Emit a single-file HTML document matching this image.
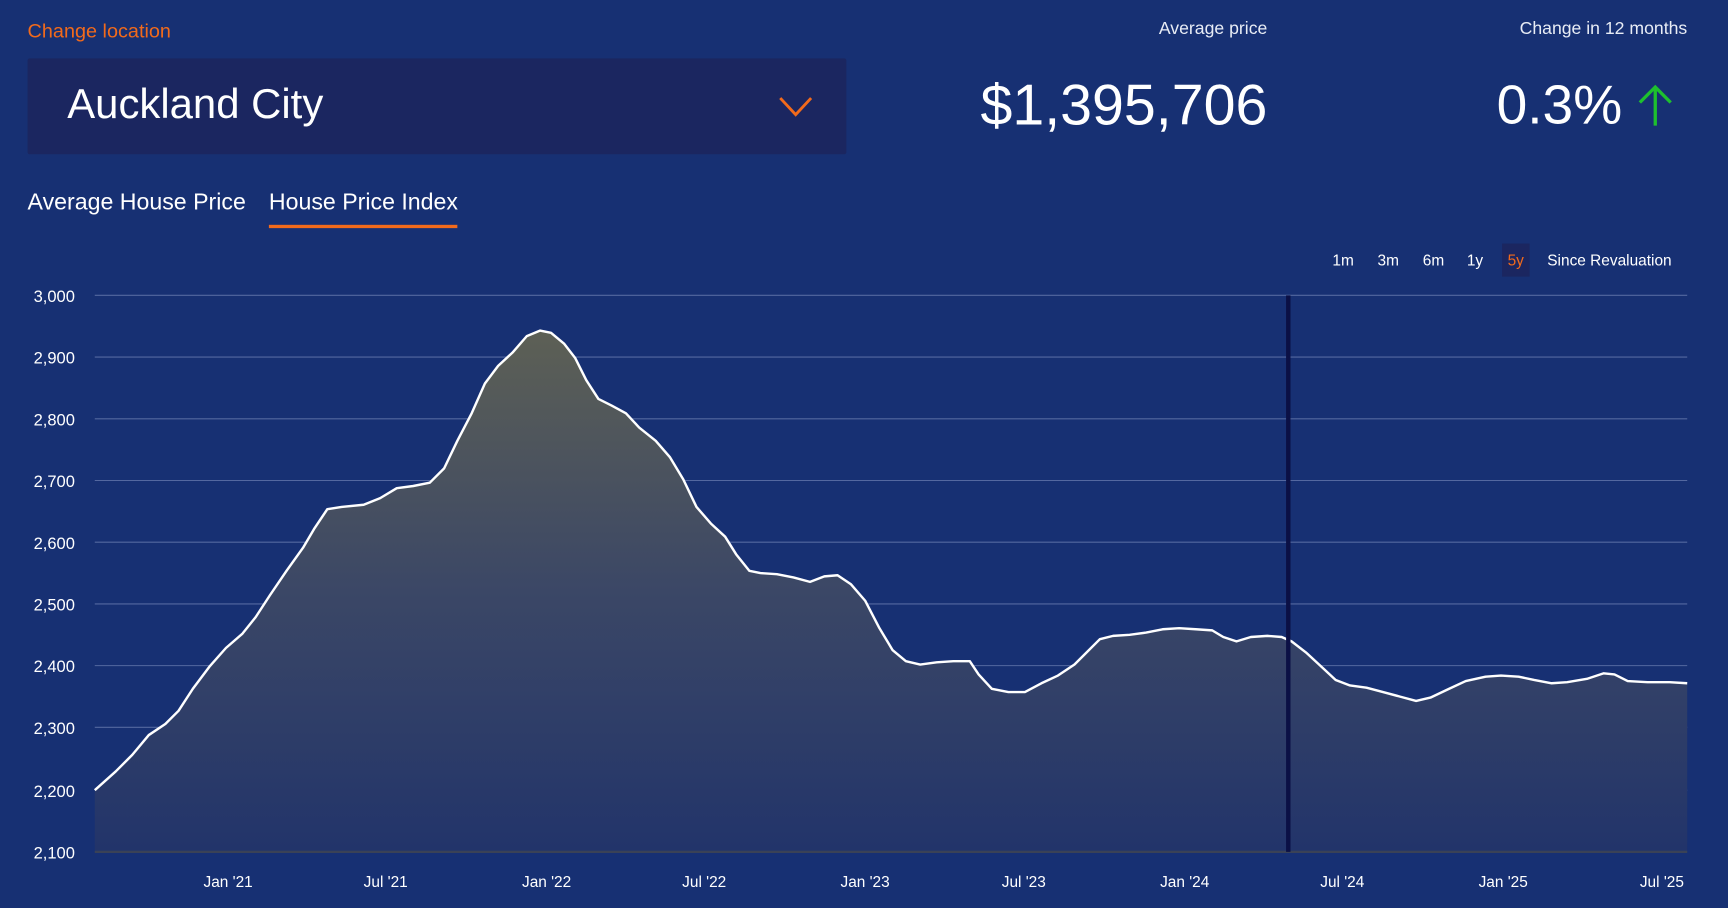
<!DOCTYPE html>
<html><head><meta charset="utf-8"><style>
html,body{margin:0;padding:0;width:1728px;height:908px;overflow:hidden;background:#173073;}
#w{position:absolute;left:0;top:0;width:1568px;height:824px;transform:scale(1.10204);transform-origin:0 0;font-family:"Liberation Sans",sans-serif;color:#fff;}
.a{position:absolute;white-space:nowrap;}
</style></head><body><div id="w">
<div class="a" style="left:25px;top:18px;font-size:18px;color:#f26a1b;">Change location</div>
<div class="a" style="left:25px;top:53px;width:743px;height:87px;background:#1b2660;border-radius:2px;"></div>
<div class="a" style="left:61px;top:74px;font-size:38px;">Auckland City</div>
<svg class="a" style="left:704px;top:84px" width="38" height="26"><polyline points="4,5 18,20 32,5" fill="none" stroke="#f26a1b" stroke-width="2.6"/></svg>
<div class="a" style="right:418px;top:18px;font-size:16px;color:#e8ecf5;">Average price</div>
<div class="a" style="right:418px;top:66px;font-size:52px;">$1,395,706</div>
<div class="a" style="right:37px;top:18px;font-size:16px;color:#e8ecf5;">Change in 12 months</div>
<div class="a" style="right:96px;top:66px;font-size:50px;">0.3%</div>
<svg class="a" style="left:1484px;top:76px" width="36" height="40"><line x1="18" y1="3" x2="18" y2="38" stroke="#1ec02e" stroke-width="3"/><polyline points="4,17 18,3 32,17" fill="none" stroke="#1ec02e" stroke-width="3"/></svg>
<div class="a" style="left:25px;top:172px;font-size:21px;">Average House Price</div>
<div class="a" style="left:244px;top:172px;font-size:21px;">House Price Index</div>
<div class="a" style="left:244px;top:204px;width:171px;height:3px;background:#f26a1b;"></div>
<div class="a" style="left:1363px;top:221px;width:25px;height:30px;background:#1b2660;"></div>
<div class="a" style="left:1209px;top:228px;font-size:14px;">1m</div>
<div class="a" style="left:1250px;top:228px;font-size:14px;">3m</div>
<div class="a" style="left:1291px;top:228px;font-size:14px;">6m</div>
<div class="a" style="left:1331px;top:228px;font-size:14px;">1y</div>
<div class="a" style="left:1368px;top:228px;font-size:14px;color:#f26a1b;">5y</div>
<div class="a" style="left:1404px;top:228px;font-size:14px;">Since Revaluation</div>
<svg class="a" style="left:0;top:0" width="1568" height="824" font-family="Liberation Sans, sans-serif" font-size="15" fill="#fff">
<defs><linearGradient id="g" x1="0" y1="300" x2="0" y2="773" gradientUnits="userSpaceOnUse"><stop offset="0" stop-color="#5d6055"/><stop offset="0.5" stop-color="#3b4766"/><stop offset="1" stop-color="#22346a"/></linearGradient></defs>
<g stroke="#5468a0" stroke-width="1">
<line x1="86" y1="268" x2="1531" y2="268"/><line x1="86" y1="324" x2="1531" y2="324"/><line x1="86" y1="380" x2="1531" y2="380"/><line x1="86" y1="436" x2="1531" y2="436"/><line x1="86" y1="492" x2="1531" y2="492"/><line x1="86" y1="548" x2="1531" y2="548"/><line x1="86" y1="604" x2="1531" y2="604"/><line x1="86" y1="660" x2="1531" y2="660"/><line x1="86" y1="717" x2="1531" y2="717"/></g>
<path fill="url(#g)" d="M86,717 L105,700 120,685 135,667 150,657 162,645 175,625 190,605 205,588 220,575 232,560 245,540 260,518 275,497 285,480 297,462 310,460 330,458 345,452 360,443 375,441 390,438 403,425 415,400 428,375 440,348 452,332 465,320 478,305 490,300 500,302 512,312 522,325 532,345 543,362 555,368 568,375 580,388 595,400 608,415 620,435 632,460 645,475 658,487 668,503 680,518 690,520 705,521 720,524 735,528 748,523 760,522 772,530 785,545 798,570 810,590 822,600 835,603 850,601 865,600 880,600 888,612 900,625 915,628 930,628 945,620 960,613 975,603 985,593 998,580 1010,577 1025,576 1040,574 1055,571 1070,570 1085,571 1100,572 1110,578 1122,582 1135,578 1150,577 1163,578 1172,582 1185,592 1198,604 1212,617 1225,622 1240,624 1255,628 1270,632 1285,636 1298,633 1315,625 1330,618 1348,614 1362,613 1378,614 1392,617 1408,620 1422,619 1440,616 1455,611 1465,612 1477,618 1495,619 1515,619 1531,620 L1531,773 L86,773 Z"/>
<line x1="86" y1="773" x2="1531" y2="773" stroke="#3a4257" stroke-width="2"/>
<polyline fill="none" stroke="#fff" stroke-width="2.2" stroke-linejoin="round" points="86,717 105,700 120,685 135,667 150,657 162,645 175,625 190,605 205,588 220,575 232,560 245,540 260,518 275,497 285,480 297,462 310,460 330,458 345,452 360,443 375,441 390,438 403,425 415,400 428,375 440,348 452,332 465,320 478,305 490,300 500,302 512,312 522,325 532,345 543,362 555,368 568,375 580,388 595,400 608,415 620,435 632,460 645,475 658,487 668,503 680,518 690,520 705,521 720,524 735,528 748,523 760,522 772,530 785,545 798,570 810,590 822,600 835,603 850,601 865,600 880,600 888,612 900,625 915,628 930,628 945,620 960,613 975,603 985,593 998,580 1010,577 1025,576 1040,574 1055,571 1070,570 1085,571 1100,572 1110,578 1122,582 1135,578 1150,577 1163,578 1172,582 1185,592 1198,604 1212,617 1225,622 1240,624 1255,628 1270,632 1285,636 1298,633 1315,625 1330,618 1348,614 1362,613 1378,614 1392,617 1408,620 1422,619 1440,616 1455,611 1465,612 1477,618 1495,619 1515,619 1531,620"/>
<line x1="1169" y1="268" x2="1169" y2="773" stroke="#0b1045" stroke-width="4"/>
<g text-anchor="end"><text x="68" y="274">3,000</text><text x="68" y="330">2,900</text><text x="68" y="386">2,800</text><text x="68" y="442">2,700</text><text x="68" y="498">2,600</text><text x="68" y="554">2,500</text><text x="68" y="610">2,400</text><text x="68" y="666">2,300</text><text x="68" y="723">2,200</text><text x="68" y="779">2,100</text></g>
<g text-anchor="middle" font-size="14"><text x="207" y="805">Jan '21</text><text x="350" y="805">Jul '21</text><text x="496" y="805">Jan '22</text><text x="639" y="805">Jul '22</text><text x="785" y="805">Jan '23</text><text x="929" y="805">Jul '23</text><text x="1075" y="805">Jan '24</text><text x="1218" y="805">Jul '24</text><text x="1364" y="805">Jan '25</text><text x="1508" y="805">Jul '25</text></g>
</svg>
</div></body></html>
